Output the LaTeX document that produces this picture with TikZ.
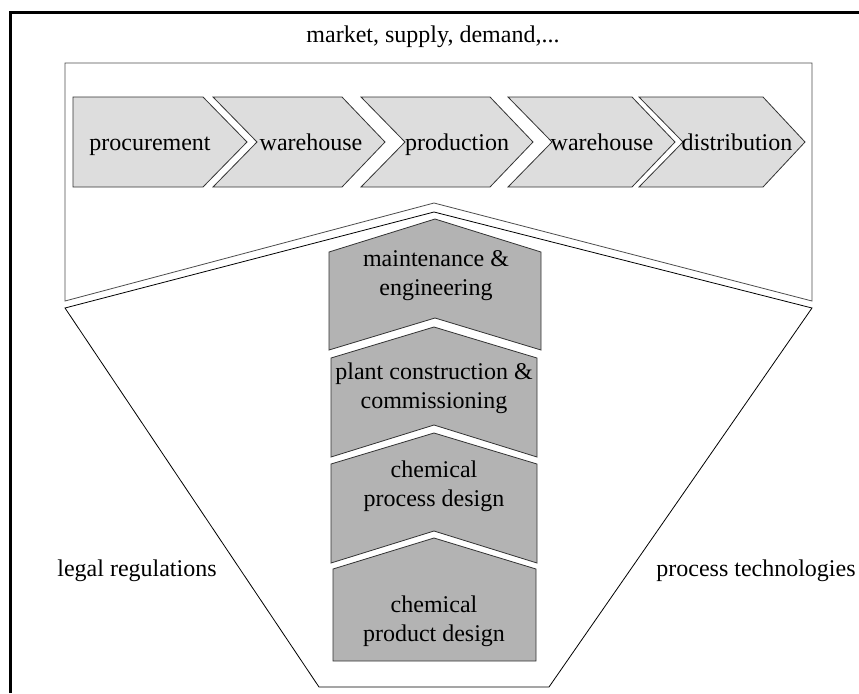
\documentclass[tikz,border=0pt]{standalone}
\usepackage{fontspec}
\setmainfont{Liberation Serif}
\usetikzlibrary{arrows,positioning}
\definecolor{chainfill}{RGB}{221,221,221}
\definecolor{phasefill}{RGB}{179,179,179}
\tikzstyle{chain}=[draw=black!80, fill=chainfill, line width=0.4pt]
\tikzstyle{phase}=[draw=black!80, fill=phasefill, line width=0.4pt]
\tikzstyle{txt}=[inner sep=0pt, align=center]

\begin{document}
\begin{tikzpicture}[x=0.5pt,y=-0.5pt,font=\fontsize{12}{14.5}\selectfont]
                        \useasboundingbox (0,0) rectangle (859,693);
                        \draw[line width=1.5pt] (10,693) -- (10,12) -- (859,12);
                        \node [txt,anchor=base] (market) at (433,42) {market, supply, demand,...};
                        % supply chain box and funnel
                        \draw[draw=black!70] (65,301) -- (65,63) -- (812,63) -- (812,301) -- (434,203) -- cycle;
                        \draw (65,308) -- (434,212) -- (812,308) -- (549,687) -- (319,687) -- cycle;
                        % supply chain
                        \draw[chain] (73,97) -- (203,97) -- (247,142) -- (203,187) -- (73,187) -- cycle;
                        \draw[chain] (213,97) -- (342,97) -- (385,142) -- (342,187) -- (213,187) -- (257,142) -- cycle;
                        \draw[chain] (361,97) -- (490,97) -- (533,142) -- (490,187) -- (361,187) -- (405,142) -- cycle;
                        \draw[chain] (508,97) -- (632,97) -- (675,142) -- (632,187) -- (508,187) -- (552,142) -- cycle;
                        \draw[chain] (639,97) -- (763,97) -- (805,142) -- (763,187) -- (639,187) -- (683,142) -- cycle;
                        \node [txt,anchor=base] (proc) at (150,150) {procurement};
                        \node [txt,anchor=base] (wh1) at (311,150) {warehouse};
                        \node [txt,anchor=base] (prod) at (457,150) {production};
                        \node [txt,anchor=base] (wh2) at (602,150) {warehouse};
                        \node [txt,anchor=base] (dist) at (737,150) {distribution};
                        % plant life cycle
                        \draw[phase] (329,252) -- (435,219) -- (541,252) -- (541,350) -- (435,318) -- (329,350) -- cycle;
                        \draw[phase] (331,358) -- (434,327) -- (537,358) -- (537,457) -- (434,425) -- (331,457) -- cycle;
                        \draw[phase] (331,464) -- (434,433) -- (537,464) -- (537,563) -- (434,531) -- (331,563) -- cycle;
                        \draw[phase] (333,569) -- (434,538) -- (536,569) -- (536,661) -- (333,661) -- cycle;
                        \node [txt] (maint) at (436,276) {maintenance \&\\engineering};
                        \node [txt] (plant) at (434,388) {plant construction \&\\commissioning};
                        \node [txt] (procdes) at (434,486) {chemical\\process design};
                        \node [txt] (proddes) at (434,621) {chemical\\product design};
                        \node [txt,anchor=base] (legal) at (137,576) {legal regulations};
                        \node [txt,anchor=base] (tech) at (756,576) {process technologies};
                    \end{tikzpicture}
\end{document}
